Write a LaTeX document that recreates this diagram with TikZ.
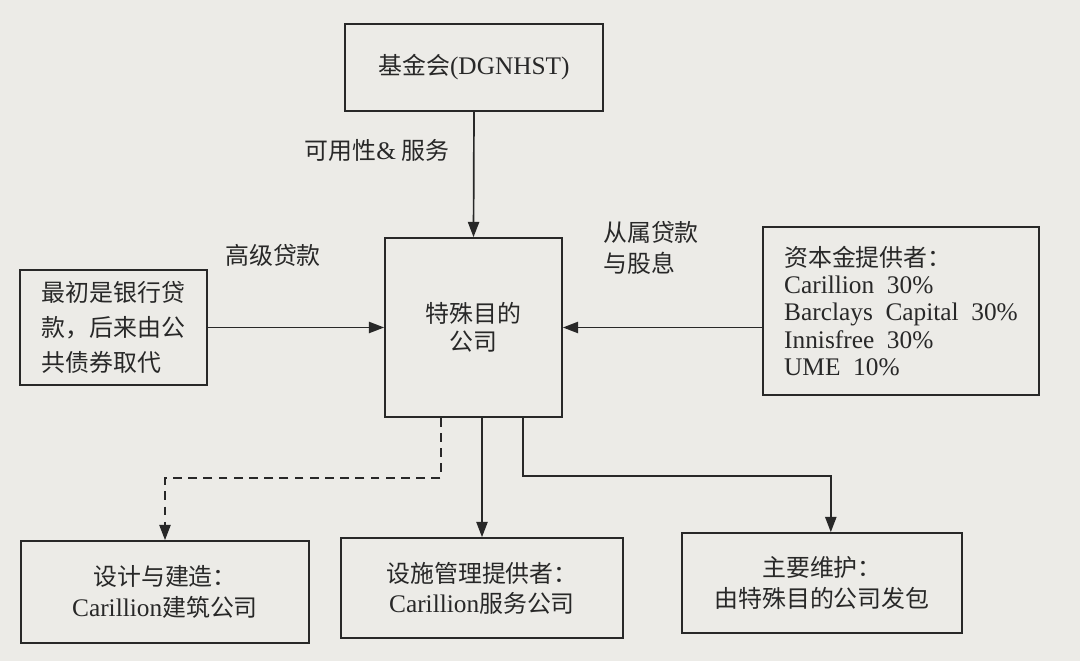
\documentclass[tikz,border=0pt]{standalone}
\usepackage{fontspec}
\setmainfont{Liberation Serif}[Scale=1.06]
\newfontfamily\cjk{Noto Sans CJK SC}
\usepackage{tikz}
\usepackage{xcolor}
\usetikzlibrary{positioning,arrows.meta,calc}
\definecolor{paper}{RGB}{236,235,231}
\definecolor{ink}{RGB}{40,40,40}
\newcommand{\lat}[1]{{\rmfamily #1}}

\begin{document}
\begin{tikzpicture}[
      x=0.025cm, y=-0.025cm,
      box/.style={draw=ink, line width=1.2pt, align=center, text=ink, inner sep=0pt, font=\cjk\fontsize{17}{21.5}\selectfont},
      lbl/.style={text=ink, align=left, inner sep=0pt, font=\cjk\fontsize{17}{22}\selectfont},
      arr/.style={-{Triangle[length=3.8mm,width=2.8mm]}, draw=ink, line width=1.2pt},
      dasharr/.style={arr, dash pattern=on 2.2mm off 1.6mm}
  ]
    \fill[paper] (0,0) rectangle (1080,661);
    \useasboundingbox (0,0) rectangle (1080,661);
    \node[box, minimum width=6.45cm, minimum height=2.175cm] (fund) at (474,67.5) {基金会\lat{(DGNHST)}};
    \node[box, minimum width=4.425cm, minimum height=4.475cm, font=\cjk\fontsize{17}{20}\selectfont] (spv) at (473.5,327.5) {特殊目的\\公司};
    \node[box, minimum width=4.675cm, minimum height=2.875cm, align=left, font=\cjk\fontsize{17}{25}\selectfont] (bank) at (113.5,327.5) {最初是银行贷\\款，后来由公\\共债券取代};
    \node[box, minimum width=6.9cm, minimum height=4.2cm, align=left, font=\cjk\fontsize{17}{19.5}\selectfont] (equity) at (901,311) {资本金提供者：\\\lat{Carillion\ \ 30\%}\\\lat{Barclays\ \ Capital\ \ 30\%}\\\lat{Innisfree\ \ 30\%}\\\lat{UME\ \ 10\%}};
    \node[box, minimum width=7.2cm, minimum height=2.55cm] (design) at (165,592) {设计与建造：\\\lat{Carillion}建筑公司};
    \node[box, minimum width=7.05cm, minimum height=2.5cm] (fm) at (482,588) {设施管理提供者：\\\lat{Carillion}服务公司};
    \node[box, minimum width=7cm, minimum height=2.5cm] (maint) at (822,583) {主要维护：\\由特殊目的公司发包};
    \node[lbl] (avail) at (377,150) {可用性\lat{\&} 服务};
    \node[lbl] (senior) at (273,255) {高级贷款};
    \node[lbl] (sub) at (651,248) {从属贷款\\与股息};
    \draw[arr] (fund.south) -- (spv.north);
    \draw[arr] (bank.east) -- (spv.west);
    \draw[arr] (equity.west |- spv.east) -- (spv.east);
    \draw[dasharr] ([xshift=-0.81cm]spv.south) -- ++(0,-1.5cm) -| (design.north);
    \draw[arr] (spv.south -| fm.north) -- (fm.north);
    \draw[arr] ([xshift=1.24cm]spv.south) -- ++(0,-1.45cm) -| ([xshift=0.22cm]maint.north);
  \end{tikzpicture}
\end{document}
